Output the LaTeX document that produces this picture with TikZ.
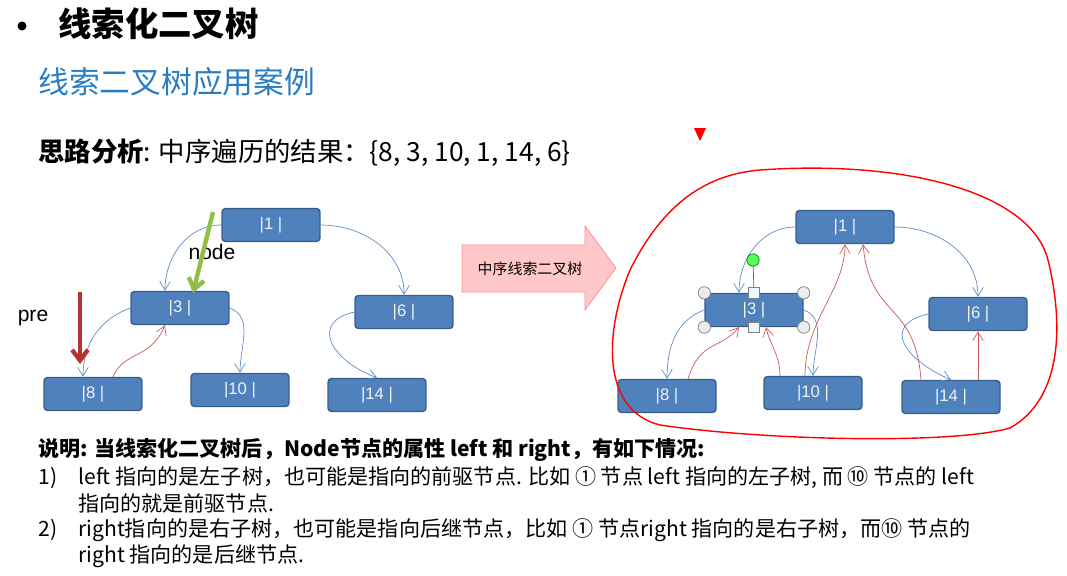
\documentclass[tikz,border=0pt]{standalone}
\usepackage{fontspec}
\setmainfont{Noto Sans CJK SC}
\newfontfamily\lat{Liberation Sans}
\usetikzlibrary{arrows.meta,calc}
\definecolor{boxblue}{RGB}{79,129,189}
\definecolor{boxedge}{RGB}{56,93,138}
\definecolor{linkblue}{RGB}{95,140,200}
\definecolor{threadred}{RGB}{200,90,90}
\definecolor{titleblue}{RGB}{40,125,195}
\definecolor{nodegreen}{RGB}{145,190,70}
\definecolor{prered}{RGB}{180,50,50}
\tikzset{
  treebox/.style={draw=boxedge,fill=boxblue,thick,rounded corners=2pt,minimum width=1.96cm,minimum height=0.66cm,text=white!90!gray,font=\lat\fontsize{9.5}{11}\selectfont},
  child/.style={-{Straight Barb[length=5pt,width=6pt]},linkblue,thin},
  thread/.style={-{Straight Barb[length=5pt,width=6pt]},threadred,thin},
  handle/.style={circle,draw=gray,fill=gray!15,inner sep=0pt,minimum size=7pt},
  sqhandle/.style={rectangle,draw=gray,fill=cyan!8,inner sep=0pt,minimum size=6pt},
  body/.style={font=\fontsize{12}{14}\selectfont,anchor=west,inner sep=0pt}
}
\begin{document}
\begin{tikzpicture}[x=0.02cm,y=-0.02cm]
\useasboundingbox (0,0) rectangle (1067,575);
% headings
\fill (22,26) circle (4.5);
\node[anchor=west,inner sep=0pt,font=\bfseries\fontsize{19}{22}\selectfont] (title) at (58,24) {线索化二叉树};
\node[anchor=west,inner sep=0pt,text=titleblue,font=\fontsize{17.5}{20}\selectfont] (sub) at (38,82) {线索二叉树应用案例};
\node[anchor=west,inner sep=0pt,font=\fontsize{15}{17}\selectfont] (idea) at (38,153) {\textbf{思路分析}: 中序遍历的结果：\{8, 3, 10, 1, 14, 6\}};

% left tree
\node[treebox] (n1) at (271,225) {|1 |};
\node[treebox] (n3) at (180,308) {|3 |};
\node[treebox] (n6) at (404,312) {|6 |};
\node[treebox] (n8) at (93,394) {|8 |};
\node[treebox] (n10) at (240,390) {|10 |};
\node[treebox] (n14) at (377,395) {|14 |};
\draw[child] (n1.west) to[out=180,in=90] ($(n3.north)+(-15,0)$);
\draw[child] (n1.east) to[out=0,in=90] (n6.north);
\draw[child] (n3.west) to[out=200,in=90] ($(n8.north)+(-10,0)$);
\draw[child] (n3.east) to[out=-20,in=90] (n10.north);
\draw[child] (n6.west) .. controls (310,322) and (330,360) .. (n14.north);
\draw[thread] ($(n8.north)+(20,0)$) .. controls (125,350) and (150,360) .. ($(n3.south)+(-15,0)$);
\node[font=\lat\fontsize{12}{14}\selectfont] (lnode) at (212,252) {node};
\node[font=\lat\fontsize{12}{14}\selectfont] (lpre) at (33,318) {pre};
\coordinate (gtop) at (213,212);
\coordinate (rtop) at (80,292);
\coordinate (rend) at (80,364);
\draw[-{Straight Barb[length=6pt,width=9pt]},line width=2.5pt,nodegreen] (gtop) -- ($(n3.north)+(13,2)$);
\draw[-{Straight Barb[length=6pt,width=9pt]},line width=2.5pt,prered] (rtop) -- (rend);

% big arrow
\draw[fill=red!22,draw=red!45] (462,245) -- (585,245) -- (585,226) -- (616,268) -- (585,310) -- (585,292) -- (462,292) -- cycle;
\node[font=\fontsize{8.5}{10}\selectfont] (ba) at (530,269) {中序线索二叉树};

% right tree
\node[treebox] (r1) at (845,227) {|1 |};
\node[treebox] (r3) at (754,310) {|3 |};
\node[treebox] (r6) at (978,314) {|6 |};
\node[treebox] (r8) at (667,396) {|8 |};
\node[treebox] (r10) at (813,393) {|10 |};
\node[treebox] (r14) at (951,397) {|14 |};
\draw[child] (r1.west) to[out=180,in=90] ($(r3.north)+(-15,0)$);
\draw[child] (r1.east) to[out=0,in=90] (r6.north);
\draw[child] (r3.west) to[out=200,in=90] (r8.north);
\draw[child] (r3.east) to[out=-20,in=90] (r10.north);
\draw[child] (r6.west) .. controls (880,325) and (905,360) .. (r14.north);
\draw[thread] ($(r8.north)+(21,0)$) .. controls (700,340) and (720,350) .. ($(r3.south)+(-15,0)$);
\draw[thread] ($(r10.north)+(-33,0)$) .. controls (780,355) and (770,345) .. ($(r3.south)+(12,0)$);
\draw[thread] ($(r10.north)+(-8,0)$) .. controls (805,320) and (845,290) .. (r1.south);
\draw[thread] ($(r14.north)+(-30,0)$) .. controls (915,300) and (870,320) .. ($(r1.south)+(18,0)$);
\draw[thread] ($(r14.north)+(27,0)$) -- (r6.south);
% selection handles
\coordinate (rot) at (753,260);
\draw[gray!70!blue] (r3.north) -- (rot);
\node[circle,draw=green!50!black,fill=green!65,inner sep=0pt,minimum size=7pt] (rotk) at (rot) {};
\foreach \a in {north west,north east,south west,south east}{
  \node[handle] at (r3.\a) {};
}
\node[sqhandle] at (r3.north) {};
\node[sqhandle] at (r3.south) {};

% red freehand outline
\draw[red,thick] (760,170) .. controls (900,160) and (1030,190) .. (1048,260)
  .. controls (1065,330) and (1060,400) .. (1010,428)
  .. controls (950,445) and (760,440) .. (660,425)
  .. controls (600,410) and (605,330) .. (630,270)
  .. controls (660,210) and (700,175) .. (760,170);
\fill[red] (694,128) -- (706,128) -- (700,141) -- cycle;

% notes
\node[body,font=\bfseries\fontsize{12}{14}\selectfont] (t0) at (38,450) {说明: 当线索化二叉树后，Node节点的属性 left 和 right，有如下情况:};
\node[body] (t1n) at (38,478) {1)};
\node[body] (t1) at (78,478) {left 指向的是左子树，也可能是指向的前驱节点. 比如 ① 节点 left 指向的左子树, 而 ⑩ 节点的 left};
\node[body] (t1b) at (78,503) {指向的就是前驱节点.};
\node[body] (t2n) at (38,530) {2)};
\node[body] (t2) at (78,530) {right指向的是右子树，也可能是指向后继节点，比如 ① 节点right 指向的是右子树，而⑩ 节点的};
\node[body] (t2b) at (78,556) {right 指向的是后继节点.};
\end{tikzpicture}
\end{document}
